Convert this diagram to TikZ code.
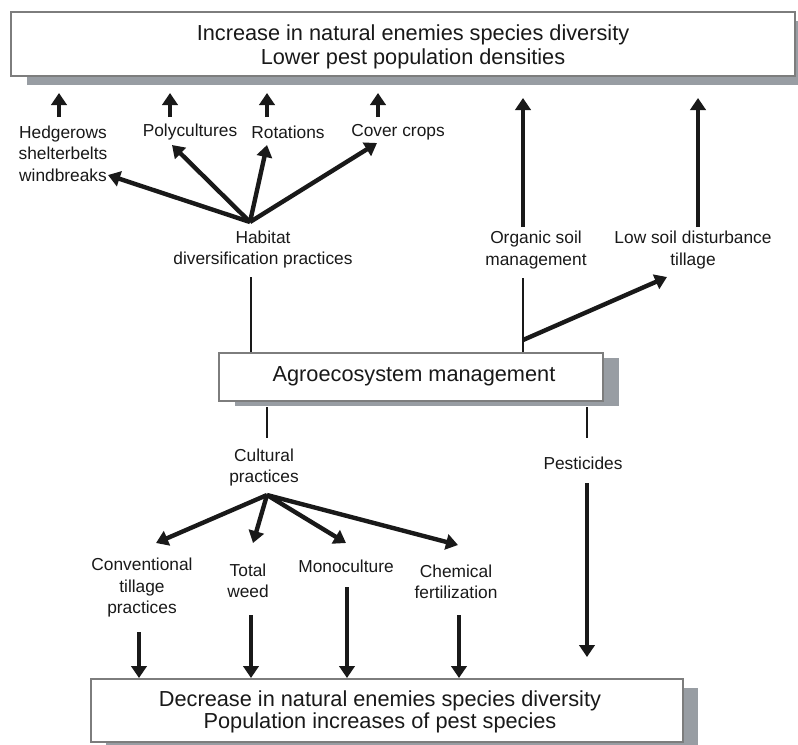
\documentclass[tikz,border=0pt]{standalone}
\usepackage{fontspec}
\setmainfont{Liberation Sans}
\usetikzlibrary{arrows.meta}
\definecolor{shadowc}{RGB}{152,157,163}
\definecolor{boxline}{RGB}{125,125,125}
\definecolor{ink}{RGB}{25,25,25}
\begin{document}
\begin{tikzpicture}[x=0.75pt,y=-0.75pt,
  box/.style={draw=boxline, line width=0.9pt, fill=white, inner sep=0},
  shade/.style={fill=shadowc},
  lbl/.style={font=\fontsize{13}{16}\selectfont, align=center, inner sep=0, text=ink},
  bigtop/.style={font=\fontsize{16.3}{18}\selectfont, align=center, inner sep=0, text=ink},
  bigbot/.style={font=\fontsize{16.3}{16.5}\selectfont, align=center, inner sep=0, text=ink},
  mid/.style={font=\fontsize{16.3}{19}\selectfont, align=center, inner sep=0, text=ink},
  arr/.style={draw=ink, line width=3.3pt, -{Triangle[length=9pt,width=11.5pt]}},
  plainln/.style={draw=ink, line width=2.2pt},
]
\clip (0,0) rectangle (798,744);
\fill[white] (0,0) rectangle (798,744);

% ---- boxes with shadows
\fill[shade] (27,21) rectangle (815,85);
\node[box, minimum width=588pt, minimum height=48pt] (top) at (403,44) {};
\node[bigtop] (toptext) at (413,47) {Increase in natural enemies species diversity\\Lower pest population densities};

\fill[shade] (235,358) rectangle (619,406);
\node[box, minimum width=288pt, minimum height=36pt] (agro) at (411,377) {};
\node[mid] (agrotext) at (414,376) {Agroecosystem management};

\fill[shade] (106,688) rectangle (698,751);
\node[box, minimum width=444pt, minimum height=47.25pt] (bot) at (387,710.5) {};
\node[bigbot] (bottext) at (380,712) {Decrease in natural enemies species diversity\\Population increases of pest species};

% ---- labels
\node[lbl] (hedge) at (63,153.5) {Hedgerows\\shelterbelts\\windbreaks};
\node[lbl] (poly) at (190,132) {Polycultures};
\node[lbl] (rot) at (288,132) {Rotations};
\node[lbl] (cover) at (398,132) {Cover crops};
\node[lbl] (habitat) at (263,249.5) {Habitat\\diversification practices};
\node[lbl] (organic) at (536,250) {Organic soil\\management};
\node[lbl] (lowsoil) at (693,250) {Low soil disturbance\\tillage};
\node[lbl] (cultural) at (264,467.5) {Cultural\\practices};
\node[lbl] (pest) at (583,463) {Pesticides};
\node[lbl] (conv) at (142,587.5) {Conventional\\tillage\\practices};
\node[lbl] (weed) at (248,580.5) {Total\\weed};
\node[lbl] (mono) at (346,566) {Monoculture};
\node[lbl] (chem) at (456,581.5) {Chemical\\fertilization};

% ---- connector end points
\coordinate (h1s) at (59,117);  \coordinate (h1e) at (59,93);
\coordinate (p1s) at (170,117); \coordinate (p1e) at (170,93);
\coordinate (r1s) at (267,117); \coordinate (r1e) at (267,93);
\coordinate (c1s) at (378,117); \coordinate (c1e) at (378,93);
\coordinate (os) at (523,227);  \coordinate (oe) at (523,98);
\coordinate (ls) at (698,227);  \coordinate (le) at (698,98);

\coordinate (hfan) at (250,222);
\coordinate (twind) at (108,175);
\coordinate (tpoly) at (172,145);
\coordinate (trot) at (267,145);
\coordinate (tcover) at (377,143);

\coordinate (hline) at (251,277);
\coordinate (oline) at (523,278);
\coordinate (obranch) at (523,340);
\coordinate (tlow) at (667,277);

\coordinate (cline) at (267,407); \coordinate (clineb) at (267,438);
\coordinate (pline) at (587,407); \coordinate (plineb) at (587,438);
\coordinate (ps) at (587,483); \coordinate (pe) at (587,657);

\coordinate (cfan) at (267,495);
\coordinate (tconv) at (156,543);
\coordinate (tweed) at (253,543);
\coordinate (tmono) at (346,543);
\coordinate (tchem) at (458,545);

\coordinate (d1s) at (139,632); \coordinate (d1e) at (139,678);
\coordinate (d2s) at (251,615); \coordinate (d2e) at (251,678);
\coordinate (d3s) at (347,587); \coordinate (d3e) at (347,678);
\coordinate (d4s) at (459,615); \coordinate (d4e) at (459,678);

% ---- connectors
\draw[arr] (h1s) -- (h1e);
\draw[arr] (p1s) -- (p1e);
\draw[arr] (r1s) -- (r1e);
\draw[arr] (c1s) -- (c1e);
\draw[arr] (os) -- (oe);
\draw[arr] (ls) -- (le);

\draw[arr] (hfan) -- (twind);
\draw[arr] (hfan) -- (tpoly);
\draw[arr] (hfan) -- (trot);
\draw[arr] (hfan) -- (tcover);

\draw[plainln] (hline) -- (hline |- agro.north);
\draw[plainln] (oline) -- (oline |- agro.north);
\draw[arr] (obranch) -- (tlow);

\draw[plainln] (cline) -- (clineb);
\draw[plainln] (pline) -- (plineb);
\draw[arr] (ps) -- (pe);

\draw[arr] (cfan) -- (tconv);
\draw[arr] (cfan) -- (tweed);
\draw[arr] (cfan) -- (tmono);
\draw[arr] (cfan) -- (tchem);

\draw[arr] (d1s) -- (d1e);
\draw[arr] (d2s) -- (d2e);
\draw[arr] (d3s) -- (d3e);
\draw[arr] (d4s) -- (d4e);
\end{tikzpicture}
\end{document}
